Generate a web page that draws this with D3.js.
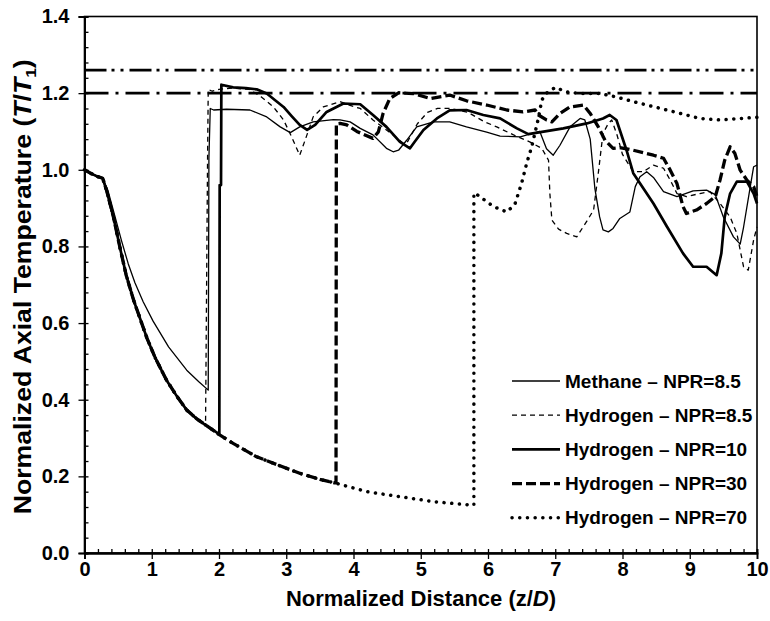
<!DOCTYPE html>
<html><head><meta charset="utf-8">
<script src="https://cdn.jsdelivr.net/npm/d3@7"></script>
<style>body{margin:0;background:#fff}svg{display:block}</style>
</head><body><svg id="c" width="770" height="621"></svg>
<script>
const xTicks=[0,1,2,3,4,5,6,7,8,9,10];
const yTicks=[0,0.2,0.4,0.6,0.8,1.0,1.2,1.4];
const refLines=[1.26,1.2];
const seriesNames=["Methane \u2013 NPR=8.5","Hydrogen \u2013 NPR=8.5","Hydrogen \u2013 NPR=10","Hydrogen \u2013 NPR=30","Hydrogen \u2013 NPR=70"];

// shared decay before shock (hydrogen cases)
const baseDecay=[[0,1.0],[0.1,0.99],[0.2,0.982],[0.27,0.978],[0.33,0.945],[0.43,0.877],[0.53,0.795],[0.62,0.725],[0.73,0.66],[0.83,0.61],[0.93,0.56],[1.05,0.51],[1.22,0.451],[1.37,0.41],[1.52,0.373],[1.67,0.35],[1.8,0.334],[1.9,0.322],[2.01,0.308],[2.21,0.286],[2.56,0.251],[2.9,0.228],[3.2,0.208],[3.5,0.192],[3.72,0.183],[4.2,0.16],[4.69,0.147],[5.19,0.134],[5.5,0.129],[5.77,0.125]];

const methane=[[0,1.0],[0.1,0.99],[0.2,0.982],[0.27,0.978],[0.35,0.945],[0.45,0.88],[0.55,0.815],[0.65,0.755],[0.75,0.705],[0.874,0.655],[1.02,0.605],[1.25,0.538],[1.52,0.477],[1.7,0.447],[1.84,0.425],[1.85,1.03],[1.87,1.16],[1.92,1.156],[2.11,1.158],[2.46,1.156],[2.71,1.138],[2.91,1.112],[3.06,1.097],[3.2,1.112],[3.4,1.125],[3.7,1.131],[3.8,1.13],[3.95,1.125],[4.1,1.108],[4.29,1.091],[4.49,1.056],[4.59,1.047],[4.67,1.051],[4.79,1.077],[4.94,1.112],[5.19,1.125],[5.43,1.125],[5.68,1.112],[5.98,1.098],[6.18,1.088],[6.48,1.086],[6.62,1.093],[6.77,1.1],[6.87,1.055],[6.97,1.038],[7.07,1.064],[7.22,1.112],[7.37,1.134],[7.44,1.13],[7.52,1.08],[7.59,0.95],[7.66,0.877],[7.71,0.843],[7.79,0.838],[7.86,0.847],[7.96,0.873],[8.11,0.89],[8.19,0.956],[8.26,0.982],[8.36,0.995],[8.46,0.98],[8.61,0.943],[8.81,0.93],[9.05,0.945],[9.25,0.947],[9.38,0.935],[9.5,0.877],[9.65,0.825],[9.75,0.806],[9.8,0.85],[9.9,0.956],[9.95,1.008],[10,1.012]];

const h85Shock=1.8;
const h85Upper=[[1.83,1.03],[1.84,1.21],[1.9,1.205],[2.0,1.21],[2.2,1.213],[2.45,1.21],[2.63,1.19],[2.81,1.164],[2.96,1.13],[3.08,1.086],[3.2,1.038],[3.28,1.077],[3.4,1.138],[3.55,1.164],[3.8,1.178],[3.95,1.168],[4.1,1.16],[4.29,1.13],[4.59,1.091],[4.74,1.069],[4.8,1.072],[4.95,1.12],[5.1,1.15],[5.25,1.16],[5.45,1.16],[5.7,1.15],[5.95,1.125],[6.13,1.112],[6.38,1.091],[6.62,1.073],[6.8,1.056],[6.9,1.025],[6.92,0.938],[6.95,0.869],[7.05,0.845],[7.17,0.834],[7.32,0.825],[7.47,0.866],[7.57,0.895],[7.64,0.991],[7.71,1.095],[7.79,1.121],[7.84,1.13],[7.92,1.09],[8.0,1.04],[8.16,0.995],[8.31,0.995],[8.46,1.012],[8.61,1.004],[8.71,0.973],[8.81,0.938],[8.95,0.93],[9.15,0.938],[9.3,0.943],[9.45,0.912],[9.6,0.877],[9.7,0.834],[9.8,0.747],[9.87,0.738],[9.95,0.817],[10,0.851]];

const h10Shock=2.0;
const h10Upper=[[2.005,0.31],[2.01,0.96],[2.03,0.96],[2.035,1.222],[2.21,1.215],[2.4,1.213],[2.56,1.21],[2.71,1.199],[2.96,1.164],[3.08,1.14],[3.2,1.117],[3.31,1.104],[3.43,1.117],[3.6,1.151],[3.85,1.173],[4.1,1.171],[4.29,1.143],[4.49,1.112],[4.69,1.073],[4.84,1.056],[4.91,1.073],[5.04,1.104],[5.24,1.134],[5.43,1.155],[5.68,1.156],[5.93,1.143],[6.18,1.134],[6.43,1.108],[6.6,1.093],[7.12,1.108],[7.47,1.121],[7.71,1.134],[7.81,1.143],[7.91,1.13],[8.06,1.051],[8.16,0.991],[8.46,0.912],[8.66,0.852],[8.9,0.782],[9.05,0.747],[9.25,0.747],[9.4,0.725],[9.47,0.782],[9.52,0.877],[9.6,0.938],[9.7,0.969],[9.85,0.969],[9.95,0.938],[10,0.912]];

const h30Shock=3.72;
const h30Upper=[[3.74,0.183],[3.745,1.12],[3.8,1.121],[3.9,1.117],[4.05,1.1],[4.29,1.082],[4.37,1.099],[4.44,1.147],[4.54,1.186],[4.67,1.201],[4.89,1.199],[5.14,1.186],[5.43,1.195],[5.68,1.18],[5.98,1.169],[6.28,1.156],[6.52,1.151],[6.7,1.156],[6.75,1.143],[6.87,1.13],[6.95,1.125],[7.07,1.147],[7.22,1.164],[7.42,1.169],[7.52,1.147],[7.64,1.112],[7.74,1.077],[7.86,1.056],[7.96,1.058],[8.16,1.051],[8.46,1.038],[8.61,1.03],[8.71,0.999],[8.81,0.964],[8.9,0.904],[8.95,0.886],[9.1,0.895],[9.25,0.912],[9.38,0.93],[9.45,0.973],[9.52,1.025],[9.6,1.06],[9.67,1.043],[9.75,0.999],[9.85,0.973],[9.95,0.956],[10,0.93]];

const h70Shock=5.77;
const h70Upper=[[5.79,0.125],[5.79,0.938],[5.8,0.94],[5.88,0.93],[6.08,0.904],[6.28,0.89],[6.4,0.91],[6.5,0.965],[6.58,1.02],[6.65,1.06],[6.75,1.135],[6.8,1.182],[6.87,1.2],[7.0,1.215],[7.17,1.203],[7.37,1.199],[7.66,1.199],[7.91,1.19],[8.16,1.178],[8.66,1.156],[9.15,1.134],[9.45,1.13],[10,1.137]];

const x=d3.scaleLinear().domain([0,10]).range([84.5,757]);
const y=d3.scaleLinear().domain([0,1.4]).range([553,16.5]);
const svg=d3.select("#c");
const FONT="'Liberation Sans', Arial, sans-serif";

const h85=baseDecay.filter(d=>d[0]<=h85Shock).concat(h85Upper);
const h10=baseDecay.filter(d=>d[0]<=h10Shock).concat(h10Upper);
const h30=baseDecay.filter(d=>d[0]<=h30Shock).concat(h30Upper);
const h70=baseDecay.filter(d=>d[0]<=h70Shock).concat(h70Upper);

const styles=[
 {w:1.3,dash:null,cap:"butt"},
 {w:1.3,dash:"5,4",cap:"butt"},
 {w:2.7,dash:null,cap:"butt"},
 {w:3.3,dash:"10,4",cap:"butt"},
 {w:3.5,dash:"0.1,7.6",cap:"round"}
];
const data=[methane,h85,h10,h30,h70];

const refDash=["22,5,3,6,3,6","24,7,3,7"];
svg.selectAll("line.ref").data(refLines).join("line").attr("class","ref")
 .attr("x1",x(0)).attr("x2",x(10)).attr("y1",d=>y(d)).attr("y2",d=>y(d))
 .attr("stroke","#000").attr("stroke-width",2.6).attr("stroke-dasharray",(d,i)=>refDash[i]);

const line=d3.line().x(d=>x(d[0])).y(d=>y(d[1]));
[4,3,2,1,0].forEach(i=>{
 svg.append("path").datum(data[i]).attr("d",line).attr("fill","none")
  .attr("stroke","#000").attr("stroke-width",styles[i].w)
  .attr("stroke-dasharray",styles[i].dash).attr("stroke-linecap",styles[i].cap)
  .attr("stroke-linejoin","round");
});

svg.append("rect").attr("x",x(0)).attr("y",y(1.4)).attr("width",x(10)-x(0)).attr("height",y(0)-y(1.4))
 .attr("fill","none").attr("stroke","#000").attr("stroke-width",1.6);

const xMinor=d3.range(0,10.001,0.2).map(v=>+v.toFixed(2));
const yMinor=d3.range(0,1.4001,0.04).map(v=>+v.toFixed(2));
const gxm=svg.append("g").attr("transform",`translate(0,${y(0)})`)
 .call(d3.axisBottom(x).tickValues(xMinor).tickSize(-4).tickFormat(""));
const gx=svg.append("g").attr("transform",`translate(0,${y(0)})`)
 .call(d3.axisBottom(x).tickValues(xTicks).tickSize(6).tickPadding(3).tickFormat(d3.format("d")));
const gym=svg.append("g").attr("transform",`translate(${x(0)},0)`)
 .call(d3.axisLeft(y).tickValues(yMinor).tickSize(-4).tickFormat(""));
const gy=svg.append("g").attr("transform",`translate(${x(0)},0)`)
 .call(d3.axisLeft(y).tickValues(yTicks).tickSize(6).tickPadding(9).tickFormat(d3.format(".1f")));
[gxm,gx,gym,gy].forEach(g=>{
 g.select(".domain").attr("stroke","#000").attr("stroke-width",1.8);
 g.selectAll(".tick line").attr("stroke","#000").attr("stroke-width",1.3);
 g.selectAll("text").attr("font-family",FONT).attr("font-weight","bold").attr("font-size",20).attr("fill","#000");
});

const xt=svg.append("text").attr("x",421).attr("y",606).attr("text-anchor","middle")
 .attr("font-family",FONT).attr("font-weight","bold").attr("font-size",22);
xt.append("tspan").text("Normalized Distance (z/");
xt.append("tspan").attr("font-style","italic").text("D");
xt.append("tspan").text(")");

const yt=svg.append("text").attr("transform",`translate(31,${(y(0)+y(1.4))/2+2}) rotate(-90)`).attr("text-anchor","middle")
 .attr("font-family",FONT).attr("font-weight","bold").attr("font-size",23)
 .attr("textLength",455).attr("lengthAdjust","spacingAndGlyphs");
yt.append("tspan").text("Normalized Axial Temperature (");
yt.append("tspan").attr("font-style","italic").text("T");
yt.append("tspan").text("/");
yt.append("tspan").attr("font-style","italic").text("T");
yt.append("tspan").attr("font-size",15).attr("dy",5).text("1");
yt.append("tspan").attr("dy",-5).text(")");

const lg=svg.append("g");
seriesNames.forEach((n,i)=>{
 const yy=381+i*34.2;
 lg.append("line").attr("x1",512).attr("x2",560).attr("y1",yy).attr("y2",yy)
  .attr("stroke","#000").attr("stroke-width",styles[i].w).attr("stroke-dasharray",styles[i].dash)
  .attr("stroke-linecap",styles[i].cap);
 lg.append("text").attr("x",565).attr("y",yy).attr("dy","0.35em")
  .attr("font-family",FONT).attr("font-weight","bold").attr("font-size",19).text(n);
});
</script></body></html>
